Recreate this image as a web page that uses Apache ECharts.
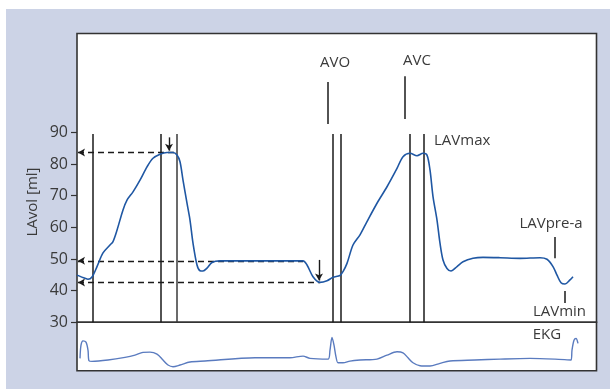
<!DOCTYPE html>
<html><head><meta charset="utf-8">
<script src="https://cdn.jsdelivr.net/npm/echarts@6/dist/echarts.min.js"></script>
<style>html,body{margin:0;padding:0;background:#fff}#c{width:610px;height:389px}</style>
</head><body><div id="c"></div>
<script>
// Left atrial volume curve: [time (ms), volume (ml)]
const lavTime = [0,16,22,30,40,52,66,72,80,92,100,112,126,140,152,166,180,192,200,206,212,220,226,232,240,246,252,260,270,286,366,452,460,472,486,500,512,526,532,540,552,566,580,600,620,640,652,666,680,692,700,706,712,720,726,732,740,748,760,772,792,812,846,886,926,940,952,960,968,976,986,992];
const lavVol = [44.9,43.9,43.6,44.3,47.6,51.9,54.4,55.5,59.1,65.5,68.6,71.2,74.9,79.1,81.8,83.1,83.6,83.6,82.8,80.7,74.9,67.6,62.3,55,48.1,46.3,46.2,47.1,48.9,49.4,49.4,49.4,48.1,44.4,42.6,43.1,44.2,44.8,46,48.6,54.4,57.6,61.8,67.6,72.8,78.6,82.3,83.4,82.6,83.4,82.8,78.1,69.7,62.3,55,49.7,47,46.2,47.6,49.1,50.2,50.5,50.4,50.2,50.4,49.9,47.6,44.9,42.5,42.1,43.4,44.4];
// EKG trace (arbitrary units)
const ekgTime = [6,8,12,18,22,24,30,62,96,116,132,146,160,172,182,192,206,226,256,356,396,426,452,466,502,506,510,514,518,522,532,546,566,600,620,640,652,662,672,686,706,726,746,796,846,906,956,988,990,994,998,1002];
const ekgVal = [2.55,5.28,6.16,5.89,4.25,2.05,1.93,2.20,2.75,3.22,3.78,3.84,3.43,2.20,1.17,0.82,1.17,1.79,1.99,2.67,2.67,2.67,3.02,2.55,2.40,4.25,6.86,5.28,2.87,1.64,1.64,1.99,2.20,2.40,3.22,3.90,3.70,2.67,1.64,1.03,0.97,1.52,1.99,2.20,2.40,2.55,2.40,2.20,4.25,6.30,6.65,5.63];
// Event markers (time, ms)
const eventTimes = [31,168,199,511,527,666,694];
const yTicks = [30,40,50,60,70,80,90];
// Reference volumes
const lavMaxRef = 83.6, preARef = 49.4, minRef = 42.6;

const TXT = '#3a3a3a';
const FONT = 'Open Sans';
const chart = echarts.init(document.getElementById('c'), null, {renderer:'canvas'});

const vLines = eventTimes.map((t,i)=>[{coord:[t,30],lineStyle:{color: i===2 ? '#3a3a3a' : '#1a1a1a'}},{coord:[t,89.5]}]);

const option = {
  backgroundColor:'#fff',
  animation:false,
  textStyle:{fontFamily:FONT},
  graphic:[
    {type:'rect',shape:{x:6,y:9,width:604,height:380},style:{fill:'#ccd3e6'},z:-10,silent:true},
    {type:'text',x:33,y:202,rotation:Math.PI/2,style:{text:'LAvol [ml]',fill:TXT,font:'15px "Open Sans"',align:'center',verticalAlign:'middle'}}
  ],
  grid:[
    {left:77,top:33.5,width:519.5,height:288.8,show:true,backgroundColor:'#fff',borderColor:'#333',borderWidth:1.6},
    {left:77,top:322.3,width:519.5,height:48.4,show:true,backgroundColor:'#fff',borderColor:'#333',borderWidth:1.6}
  ],
  xAxis:[
    {gridIndex:0,type:'value',min:0,max:1039,show:false},
    {gridIndex:1,type:'value',min:0,max:1039,show:false}
  ],
  yAxis:[
    {gridIndex:0,type:'value',min:30,max:121.2,interval:10,splitLine:{show:false},
     axisLine:{show:false},
     axisTick:{show:true,length:6,customValues:yTicks,lineStyle:{color:'#333',width:1.2}},
     axisLabel:{customValues:yTicks,color:TXT,fontSize:16,fontFamily:FONT,margin:9}},
    {gridIndex:1,type:'value',min:0,max:10,show:false}
  ],
  series:[
    {type:'line',xAxisIndex:0,yAxisIndex:0,data:lavTime.map((t,i)=>[t,lavVol[i]]),
     showSymbol:false,smooth:0.3,lineStyle:{color:'#1f57a3',width:1.6},z:5,
     markLine:{silent:true,symbol:['none','none'],label:{show:false},lineStyle:{type:'solid',width:1.5,color:'#1a1a1a'},
       data:[
        ...vLines,
        [{coord:[501,92.6]},{coord:[501,105.9]}],
        [{coord:[656,94.2]},{coord:[656,107.7]}],
        [{coord:[956,50.2]},{coord:[956,56.9]}],
        [{coord:[976,36.1]},{coord:[976,39.9]}]
       ]},
     markPoint:{silent:true,symbol:'circle',symbolSize:0,
       label:{show:true,color:TXT,fontSize:15,fontFamily:FONT,formatter:p=>p.name},
       data:[
        {name:'AVO',coord:[516,111.9],label:{position:'inside'}},
        {name:'AVC',coord:[680,112.5],label:{position:'inside'}},
        {name:'LAVmax',coord:[714,87.3],label:{position:'right',distance:0}},
        {name:'LAVpre-a',coord:[948,61.0],label:{position:'inside'}},
        {name:'LAVmin',coord:[965,33.3],label:{position:'inside'}}
       ]}
    },
    {type:'line',xAxisIndex:0,yAxisIndex:0,data:[],
     markLine:{silent:true,symbol:['arrow','none'],symbolSize:[6,7],label:{show:false},
       lineStyle:{type:[6,4],width:1.4,color:'#1a1a1a'},
       data:[
        [{coord:[2,lavMaxRef]},{coord:[198,lavMaxRef]}],
        [{coord:[2,preARef]},{coord:[452,preARef]}],
        [{coord:[2,minRef]},{coord:[486,minRef]}]
       ]}
    },
    {type:'line',xAxisIndex:0,yAxisIndex:0,data:[],
     markLine:{silent:true,symbol:['none','arrow'],symbolSize:[6,7],label:{show:false},
       lineStyle:{type:'solid',width:1.4,color:'#1a1a1a'},
       data:[
        [{coord:[184,88.4]},{coord:[184,84.2]}],
        [{coord:[484,49.7]},{coord:[484,43.2]}]
       ]}
    },
    {type:'line',xAxisIndex:1,yAxisIndex:1,data:ekgTime.map((t,i)=>[t,ekgVal[i]]),
     showSymbol:false,smooth:0.3,lineStyle:{color:'#5a7bbf',width:1.4},
     markPoint:{silent:true,symbol:'circle',symbolSize:0,
       label:{show:true,color:TXT,fontSize:15,fontFamily:FONT,position:'inside',formatter:p=>p.name},
       data:[{name:'EKG',coord:[940,7.33]}]}
    }
  ]
};
chart.setOption(option);
</script></body></html>
